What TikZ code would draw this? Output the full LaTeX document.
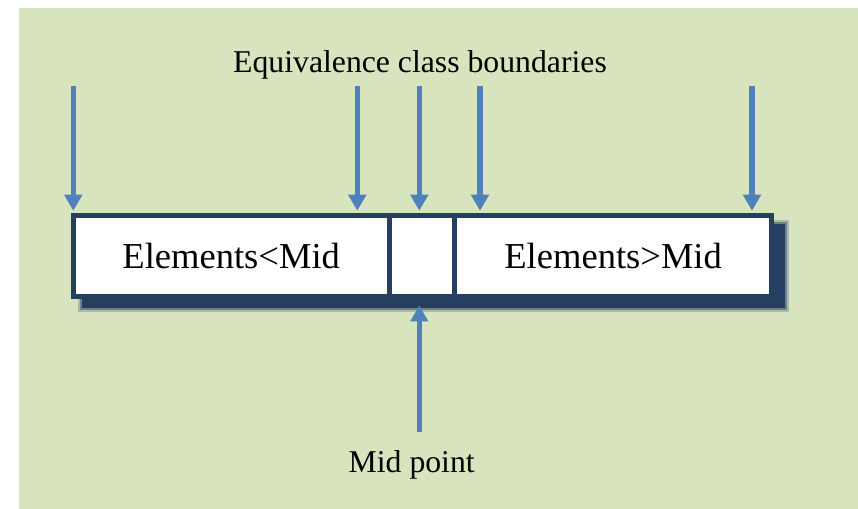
\documentclass[tikz,border=0pt]{standalone}
\usepackage{fontspec}
\setmainfont{Liberation Serif}
\usetikzlibrary{arrows.meta,calc}
\definecolor{bggreen}{HTML}{D7E4BD}
\definecolor{arrblue}{HTML}{4F81BD}
\definecolor{navy}{HTML}{243F60}
\tikzset{
  cell/.style={draw=navy, fill=white, line width=3.75pt, minimum height=60.75pt, inner sep=0pt, font=\fontsize{27.4}{32}\selectfont},
  arr/.style={draw=arrblue, line width=3.9pt, -{Triangle[width=13pt,length=12pt]}},
  lbl/.style={anchor=base, inner sep=0pt, font=\fontsize{23.8}{28}\selectfont},
  shadowbox/.style={fill=navy}
}
\begin{document}
\begin{tikzpicture}[x=0.75pt,y=-0.75pt]
\useasboundingbox (0,0) rectangle (858,509);
\fill[white] (0,0) rectangle (858,509);
\fill[bggreen] (19,8) rectangle (858,509);
% blurred drop shadow
\fill[shadowbox, opacity=0.25] (78,220) rectangle (789,312);
\fill[shadowbox, opacity=0.45] (80,222) rectangle (787,310);
\fill[shadowbox] (82,224) rectangle (785,308);
% cells
\node[cell, minimum width=237pt] (L) at (231.2,256) {Elements<Mid};
\node[cell, minimum width=49.2pt] (M) at (422,256) {};
\node[cell, minimum width=237.5pt] (R) at (613.15,256) {Elements>Mid};
% labels
\node[lbl] (eq) at (420,72.3) {Equivalence class boundaries};
\node[lbl] (mp) at (411.7,473) {Mid point};
% top arrows
\coordinate (a1) at (73.3,86);
\coordinate (a2) at (357.3,86);
\coordinate (a3) at (419.3,86);
\coordinate (a4) at (480,86);
\coordinate (a5) at (752,86);
\draw[arr] (a1) -- ($(a1 |- L.north)+(0,-2.3)$);
\draw[arr] (a2) -- ($(a2 |- L.north)+(0,-2.3)$);
\draw[arr] (a3) -- ($(a3 |- M.north)+(0,-2.3)$);
\draw[arr] (a4) -- ($(a4 |- R.north)+(0,-2.3)$);
\draw[arr] (a5) -- ($(a5 |- R.north)+(0,-2.3)$);
% bottom arrow
\coordinate (b1) at (419.3,432);
\draw[arr] (b1) -- ($(b1 |- M.south)+(0,6.5)$);
\end{tikzpicture}
\end{document}
